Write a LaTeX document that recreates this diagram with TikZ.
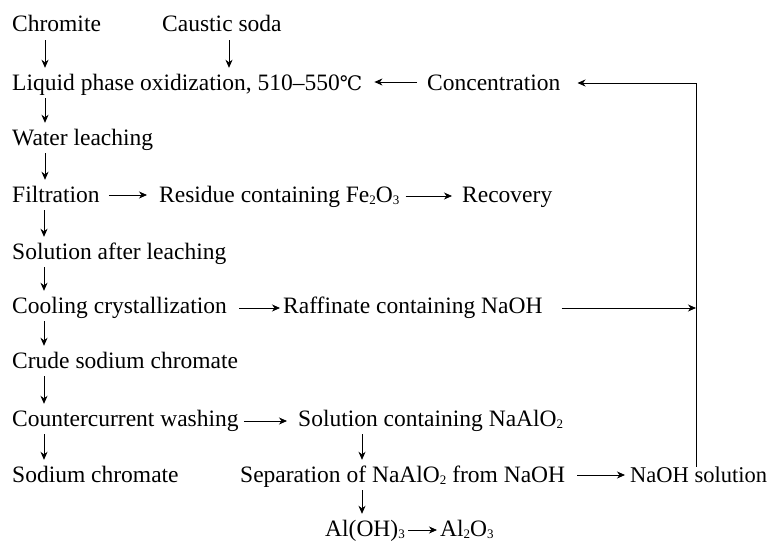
\documentclass[tikz,border=0pt]{standalone}
\usepackage{fontspec}
\setmainfont{Liberation Serif}
\newfontfamily\symfnt{DejaVu Serif}
\usetikzlibrary{arrows.meta}
\newcommand{\lowidx}[1]{\raisebox{-0.25ex}{\fontsize{13}{13}\selectfont #1}}
\begin{document}
\begin{tikzpicture}[x=1pt,y=-1pt,
  lbl/.style={anchor=base west,inner sep=0pt,text height=17pt,text depth=5pt,font=\fontsize{23.5}{28}\selectfont},
  arr/.style={line width=0.8pt,-{Stealth[length=8pt,width=7pt,inset=2.5pt]}},
  varr/.style={arr,shorten <=3pt,shorten >=5pt}]
\useasboundingbox (0,0) rectangle (773,543);
\node[lbl] (chromite) at (12,32) {Chromite};
\node[lbl] (caustic) at (162,32) {Caustic soda};
\node[lbl] (liquid) at (12,90) {Liquid phase oxidization, 510–550{\symfnt\fontsize{20}{24}\selectfont ℃}};
\node[lbl] (conc) at (427,90) {Concentration};
\node[lbl] (water) at (12,145) {Water leaching};
\node[lbl] (filt) at (12,202) {Filtration};
\node[lbl] (residue) at (159,202) {Residue containing Fe\lowidx{2}O\lowidx{3}};
\node[lbl] (recov) at (462,202) {Recovery};
\node[lbl] (soln) at (12,259) {Solution after leaching};
\node[lbl] (cool) at (12,313) {Cooling crystallization};
\node[lbl] (raff) at (283,313) {Raffinate containing NaOH};
\node[lbl] (crude) at (12,368) {Crude sodium chromate};
\node[lbl] (counter) at (12,426) {Countercurrent washing};
\node[lbl] (naalo) at (298,426) {Solution containing NaAlO\lowidx{2}};
\node[lbl] (sodium) at (12,482) {Sodium chromate};
\node[lbl] (sep) at (240,482) {Separation of NaAlO\lowidx{2} from NaOH};
\node[lbl,font=\fontsize{22.5}{27}\selectfont] (naohsol) at (630,482) {NaOH solution};
\node[lbl] (aloh) at (325,536) {Al(OH)\lowidx{3}};
\node[lbl] (alo) at (440,536) {Al\lowidx{2}O\lowidx{3}};
% left column vertical arrows
\draw[varr] ([xshift=33pt]chromite.south west) -- ([xshift=33pt]liquid.north west);
\draw[varr] ([xshift=33pt]liquid.south west) -- ([xshift=33pt]water.north west);
\draw[varr] ([xshift=33pt]water.south west) -- ([xshift=33pt]filt.north west);
\draw[varr] ([xshift=32pt]filt.south west) -- ([xshift=32pt]soln.north west);
\draw[varr] ([xshift=32pt]soln.south west) -- ([xshift=32pt]cool.north west);
\draw[varr] ([xshift=32pt]cool.south west) -- ([xshift=32pt]crude.north west);
\draw[varr] ([xshift=32pt]crude.south west) -- ([xshift=32pt]counter.north west);
\draw[varr] ([xshift=32pt]counter.south west) -- ([xshift=32pt]sodium.north west);
% caustic soda
\coordinate (cs) at ([xshift=67pt]caustic.south west);
\draw[varr] (cs) -- (cs |- liquid.north);
% NaAlO2 column
\coordinate (na) at ([xshift=64pt]naalo.south west);
\draw[varr] (na) -- (na |- sep.north);
\coordinate (sp) at (na |- sep.south);
\draw[varr] (sp) -- (sp |- aloh.north);
% horizontal arrows
\draw[arr] ([shift={(-10pt,8pt)}]conc.base west) -- ([shift={(12pt,8pt)}]liquid.base east);
\draw[arr] ([shift={(9pt,7pt)}]filt.base east) -- ([shift={(-12pt,7pt)}]residue.base west);
\draw[arr] ([shift={(6pt,6pt)}]residue.base east) -- ([shift={(-10pt,6pt)}]recov.base west);
\draw[arr] ([shift={(12pt,5pt)}]cool.base east) -- ([shift={(-3pt,5pt)}]raff.base west);
\draw[arr] ([shift={(5pt,5pt)}]counter.base east) -- ([shift={(-11pt,5pt)}]naalo.base west);
\draw[arr] ([shift={(12pt,7pt)}]sep.base east) -- ([shift={(-5pt,7pt)}]naohsol.base west);
\draw[arr] ([shift={(3pt,6pt)}]aloh.base east) -- ([shift={(-3pt,6pt)}]alo.base west);
% recycle loop
\coordinate (bot) at ([shift={(66pt,-2pt)}]naohsol.north west);
\coordinate (raffR) at ([shift={(19pt,5pt)}]raff.base east);
\draw[arr,shorten >=17pt] (bot) |- ([yshift=7pt]conc.base east);
\draw[arr] (raffR) -- (raffR -| bot);
\end{tikzpicture}
\end{document}
